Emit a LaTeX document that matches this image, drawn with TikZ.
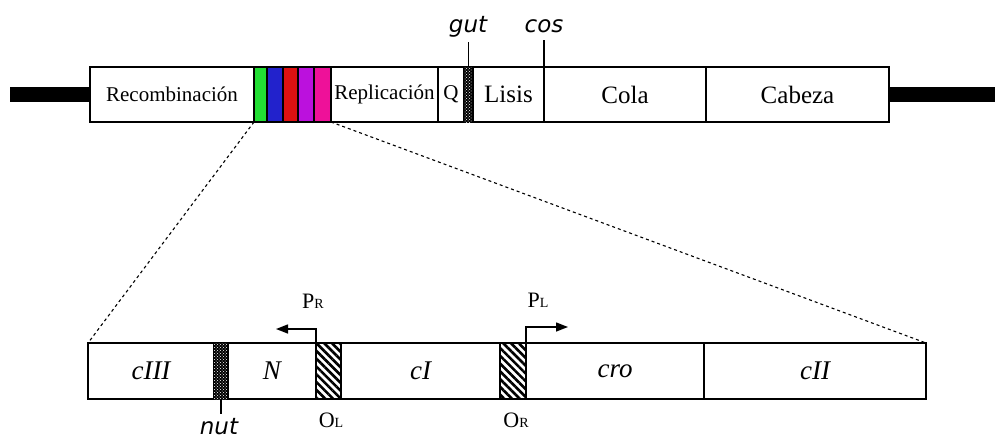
\documentclass[tikz,border=0pt]{standalone}
\usepackage{fontspec}
\setmainfont{Liberation Serif}
\newfontfamily\gensans{DejaVu Sans}
\usetikzlibrary{patterns,patterns.meta,arrows.meta}
\tikzset{
  seg/.style={draw, line width=1.3pt, rectangle, inner sep=0pt, outer sep=0pt, minimum height=55pt},
  lowseg/.style={seg, minimum height=56pt},
  band/.style={seg, fill=#1},
  toptxt/.style={font=\fontsize{21}{25}\selectfont},
  bigtxt/.style={font=\fontsize{25}{29}\selectfont},
  genetxt/.style={font=\fontsize{27}{31}\selectfont\itshape},
  sitetxt/.style={font=\gensans\fontsize{23}{27}\selectfont\itshape, inner sep=0pt, anchor=base},
  dotbar/.style={seg, fill=black, postaction={pattern=crosshatch dots, pattern color=white}},
  hatchbar/.style={lowseg, fill=white, postaction={pattern={Lines[angle=-45,distance=5.5pt,line width=2.6pt]}}},
  thick arm/.style={fill=black},
  zoomline/.style={line width=1.1pt, dash pattern=on 3pt off 3pt},
  promoter/.style={line width=1.4pt, -{Triangle[length=12pt,width=9pt]}},
  oplabel/.style={inner sep=0pt, anchor=base}
}
\definecolor{cgreen}{RGB}{34,221,51}
\definecolor{cblue}{RGB}{34,34,204}
\definecolor{cred}{RGB}{221,17,17}
\definecolor{cmag}{RGB}{187,17,221}
\definecolor{cpink}{RGB}{238,17,153}
\newcommand{\smcap}[2]{{\fontsize{22}{24}\selectfont #1\fontsize{14}{16}\selectfont #2}}
\begin{document}
\begin{tikzpicture}[x=1pt, y=-1pt]
\useasboundingbox (0,0) rectangle (995,439);

% chromosome arms
\fill[thick arm] (10,87) rectangle (90,102);
\fill[thick arm] (889,87) rectangle (995,102);

% top genome map
\node[seg, toptxt, minimum width=164pt] (rec) at (172,94.5) {Recombinación};
\node[band=cgreen, minimum width=13pt] (green) at (260.5,94.5) {};
\node[band=cblue, minimum width=16pt] (blue) at (275,94.5) {};
\node[band=cred, minimum width=15pt] (red) at (290.5,94.5) {};
\node[band=cmag, minimum width=16pt] (mag) at (306,94.5) {};
\node[band=cpink, minimum width=17pt] (pink) at (322.5,94.5) {};
\node[seg, toptxt, minimum width=107pt] (rep) at (384.5,94.5) {Replicación};
\node[seg, toptxt, minimum width=26pt] (q) at (451,94.5) {Q};
\node[dotbar, minimum width=9pt] (gutbar) at (468.5,94.5) {};
\node[seg, bigtxt, minimum width=71pt] (lisis) at (508.5,94.5) {Lisis};
\node[seg, bigtxt, minimum width=162pt] (cola) at (625,94.5) {Cola};
\node[seg, bigtxt, minimum width=183pt] (cabeza) at (797.5,94.5) {Cabeza};

% site markers above the map
\coordinate (guttop) at (468.5,42);
\coordinate (costop) at (544,40);
\draw[line width=1.2pt] (gutbar.north) -- (guttop);
\draw[line width=1.2pt] (cola.north west) -- (costop);
\node[sitetxt] (gut) at (468,32) {gut};
\node[sitetxt] (cos) at (544,32) {cos};

% enlarged immunity region
\node[lowseg, genetxt, minimum width=126pt] (ciii) at (151,371) {cIII};
\node[dotbar, minimum height=56pt, minimum width=14pt] (nutbar) at (221,371) {};
\node[lowseg, genetxt, minimum width=88pt] (n) at (272,371) {N};
\node[hatchbar, minimum width=25pt] (ol) at (328.5,371) {};
\node[lowseg, genetxt, minimum width=159pt] (ci) at (420.5,371) {cI};
\node[hatchbar, minimum width=26pt] (or) at (513,371) {};
\node[lowseg, genetxt, minimum width=178pt] (cro) at (615,371) {cro};
\node[lowseg, genetxt, minimum width=222pt] (cii) at (815,371) {cII};

% zoom guides
\draw[zoomline] (green.south west) -- (ciii.north west);
\draw[zoomline] (pink.south east) -- (cii.north east);

% promoters
\coordinate (prend) at (276,329);
\coordinate (plend) at (568,327);
\draw[promoter] (ol.north west) |- (prend);
\draw[promoter] (or.north east) |- (plend);
\node[oplabel] (pr) at (313,308) {\smcap{P}{R}};
\node[oplabel] (pl) at (538,307) {\smcap{P}{L}};

% operators
\node[oplabel] (olab) at (331,427) {\smcap{O}{L}};
\node[oplabel] (orlab) at (516,427) {\smcap{O}{R}};

% nut site
\coordinate (nutend) at (221,414);
\draw[line width=1.2pt] (nutbar.south) -- (nutend);
\node[sitetxt] (nut) at (219,434.5) {nut};
\end{tikzpicture}
\end{document}
